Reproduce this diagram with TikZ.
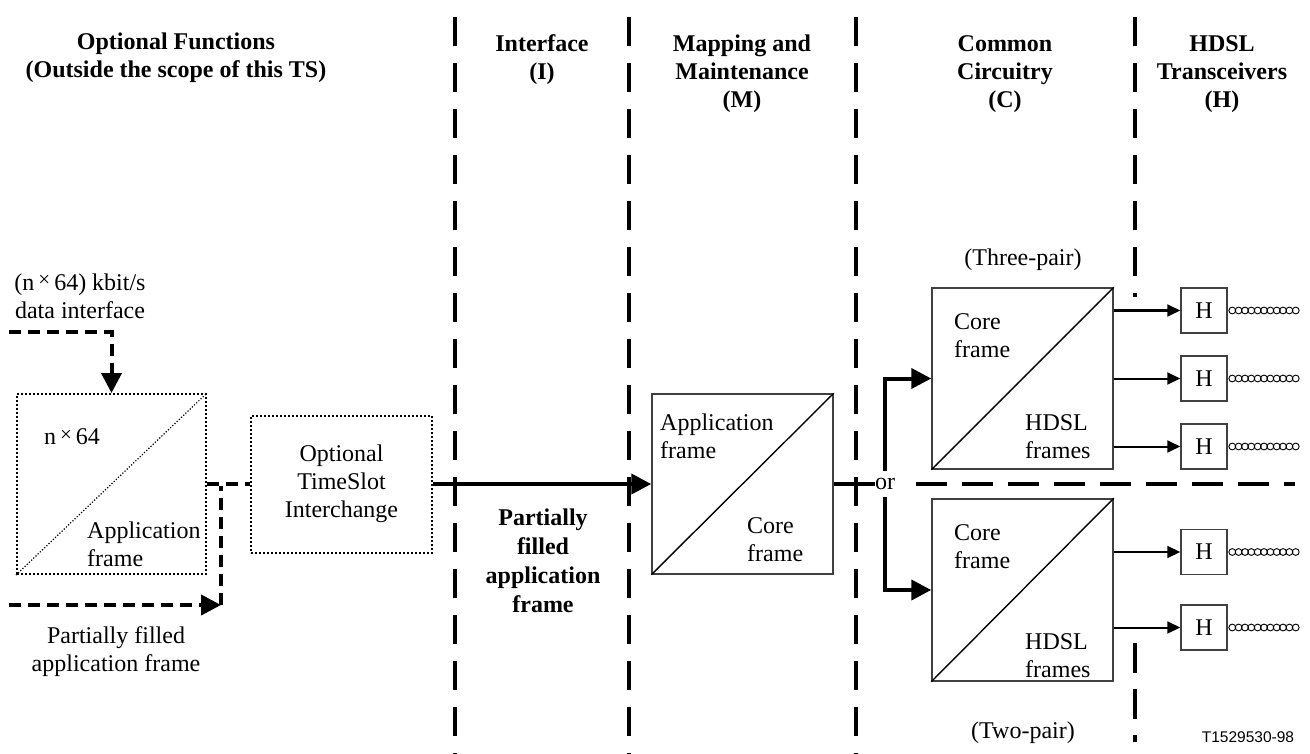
\documentclass[tikz,border=0pt]{standalone}
\usepackage{fontspec}
\setmainfont{Liberation Serif}
\newfontfamily\tagfont{Liberation Sans}
\usetikzlibrary{arrows.meta}
\newcommand{\tms}{\,{\raisebox{0.3ex}{\fontsize{21}{21}\selectfont ×}}\,}
\begin{document}
\begin{tikzpicture}[x=1pt,y=-1pt,
  txt/.style={font=\fontsize{24}{28}\selectfont, inner sep=0pt, align=center},
  ltxt/.style={font=\fontsize{24}{28}\selectfont, inner sep=0pt, align=left},
  hdr/.style={font=\fontsize{24}{28}\selectfont\bfseries, inner sep=0pt, align=center},
  sepline/.style={line width=3.5pt, dash pattern=on 29pt off 17pt},
  hsepline/.style={line width=3.3pt, dash pattern=on 31pt off 15pt},
  dotbox/.style={draw, line width=2pt, dash pattern=on 2pt off 2pt, inner sep=0pt},
  dotdiag/.style={line width=1.2pt, dash pattern=on 1.2pt off 1.8pt},
  solbox/.style={draw=black!75, line width=1.5pt, inner sep=0pt},
  diag/.style={line width=1.4pt},
  dashflow/.style={line width=4pt, dash pattern=on 12pt off 7pt},
  bigtip/.style={-{Triangle[length=20pt,width=20pt]}},
  thickflow/.style={line width=4pt},
  thinarrow/.style={line width=2pt, -{Triangle[length=13pt,width=12pt]}},
  hbox/.style={solbox, minimum width=46pt, minimum height=45pt, font=\fontsize{24}{28}\selectfont},
  coil/.style={line width=0.9pt}
]
\useasboundingbox (0,0) rectangle (1310,754);

% column separators
\draw[sepline] (455,17) -- (455,754);
\draw[sepline] (629,17) -- (629,754);
\draw[sepline] (856,17) -- (856,754);
\draw[sepline] (1135,17) -- (1135,297);
\draw[line width=3.5pt, dash pattern=on 30pt off 16pt] (1135,643) -- (1135,742);
\draw[hsepline] (916,484) -- (1295,484);

% headers
\node[hdr] (hOF) at (176,58) {Optional Functions\\(Outside the scope of this TS)};
\node[hdr] (hI) at (542,60) {Interface\\(I)};
\node[hdr] (hM) at (742,74) {Mapping and\\Maintenance\\(M)};
\node[hdr] (hC) at (1005,74) {Common\\Circuitry\\(C)};
\node[hdr] (hH) at (1222,74) {HDSL\\Transceivers\\(H)};

% optional functions
\node[txt] (din) at (80,296) {(n\tms 64) kbit/s\\data interface};
\node[dotbox, minimum width=189pt, minimum height=180pt] (lbox) at (111.5,484) {};
\draw[dotdiag] (lbox.south west) -- (lbox.north east);
\node[txt] (lboxa) at (72,437) {n\tms 64};
\node[ltxt, anchor=west] (lboxb) at (87,544) {Application\\frame};
\node[dotbox, minimum width=181pt, minimum height=137pt, txt] (tsi) at (341.5,484) {Optional\\TimeSlot\\Interchange};
\node[txt] (pflbl) at (116,652) {Partially filled\\application frame};

\coordinate (dinstart) at (9,332);
\coordinate (pfstart) at (9,605);
\coordinate (pfcorner) at (221,605);
\coordinate (pfjoin) at (221,486);

\draw[dashflow, bigtip] (dinstart) -| (lbox.north);
\draw[dashflow, bigtip] (pfstart) -- (pfcorner);
\draw[dashflow] (pfcorner) -- (pfjoin);
\draw[dashflow] (lbox.east) -- (tsi.west);

% interface
\node[hdr, font=\fontsize{24}{29}\selectfont\bfseries] (pfbold) at (543,561) {Partially\\filled\\application\\frame};

% mapping
\node[solbox, minimum width=181pt, minimum height=180pt] (mbox) at (742.5,484) {};
\draw[diag] (mbox.south west) -- (mbox.north east);
\node[ltxt, anchor=west] (mboxa) at (660,436) {Application\\frame};
\node[ltxt, anchor=west] (mboxb) at (747,540) {Core\\frame};
\draw[thickflow, bigtip] (tsi.east) -- (mbox.west);

% common circuitry
\node[solbox, minimum width=181pt, minimum height=181pt] (c3) at (1022.5,378.5) {};
\draw[diag] (c3.south west) -- (c3.north east);
\node[ltxt, anchor=west] (c3a) at (954,336) {Core\\frame};
\node[ltxt, anchor=west] (c3b) at (1025,437) {HDSL\\frames};
\node[solbox, minimum width=181pt, minimum height=182pt] (c2) at (1022.5,590) {};
\draw[diag] (c2.south west) -- (c2.north east);
\node[ltxt, anchor=west] (c2a) at (954,547) {Core\\frame};
\node[ltxt, anchor=west] (c2b) at (1025,656) {HDSL\\frames};
\node[txt] (three) at (1023,260) {(Three-pair)};
\node[txt] (two) at (1023,733) {(Two-pair)};

\node[txt, minimum height=25pt] (orl) at (885,484) {or};
\draw[thickflow] (mbox.east) -- (orl.west);
\draw[thickflow, bigtip] (orl.north) |- (c3.west);
\draw[thickflow, bigtip] (orl.south) |- (c2.west);

% transceivers
\node[hbox] (h1) at (1204,310.5) {H};
\node[hbox] (h2) at (1204,378.5) {H};
\node[hbox] (h3) at (1204,446.5) {H};
\node[hbox] (h4) at (1204,552) {H};
\node[hbox] (h5) at (1204,627.5) {H};
\draw[thinarrow] (c3.east |- h1.west) -- (h1.west);
\draw[thinarrow] (c3.east |- h2.west) -- (h2.west);
\draw[thinarrow] (c3.east |- h3.west) -- (h3.west);
\draw[thinarrow] (c2.east |- h4.west) -- (h4.west);
\draw[thinarrow] (c2.east |- h5.west) -- (h5.west);
\foreach \h in {h1,h2,h3,h4,h5}{
  \foreach \k in {0,...,10}{
    \draw[coil] ([xshift=4.5pt+\k*6.35pt]\h.east) circle (3.4pt);
  }
}

\node[font=\tagfont\fontsize{15.5}{18}\selectfont, inner sep=0pt] (tag) at (1248,737) {T1529530-98};
\end{tikzpicture}
\end{document}
